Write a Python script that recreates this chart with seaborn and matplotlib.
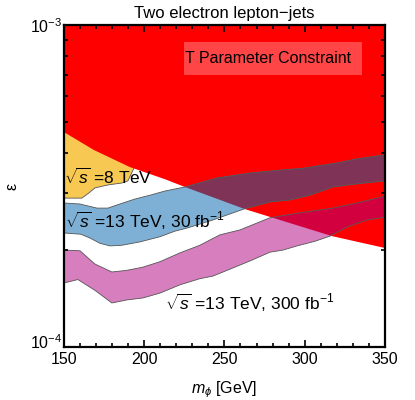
import matplotlib
matplotlib.use("Agg")
import matplotlib.pyplot as plt
import numpy as np
import seaborn as sns
from matplotlib.patches import Rectangle
from matplotlib.ticker import MultipleLocator, LogLocator, NullFormatter
from matplotlib.transforms import ScaledTranslation

# T parameter constraint: excluded above this boundary
t_mass = [150, 168.7, 191.1, 212.9, 225.4, 262.8, 317.0, 350]
t_eps = [4.65e-4, 4.09e-4, 3.62e-4, 3.32e-4, 3.14e-4, 2.68e-4, 2.21e-4, 2.03e-4]

# sqrt(s) = 8 TeV band (top hidden under the red region)
tev8_mass = [150, 161.2, 165.6, 169.3, 178.0, 186.1, 189.9, 193.6]
tev8_lower = [2.90e-4, 2.90e-4, 3.01e-4, 3.12e-4, 3.19e-4, 3.23e-4, 3.28e-4, 3.59e-4]
tev8_upper = [4.80e-4, 4.50e-4, 4.40e-4, 4.30e-4, 4.10e-4, 3.90e-4, 3.80e-4, 3.62e-4]

# sqrt(s) = 13 TeV, 30 fb^-1
b30_up_mass = [150, 160, 170.6, 177.4, 184.9, 194.2, 203.6, 212.9, 225.4, 245.3,
               265.9, 286.5, 298.9, 320.1, 332.5, 350]
b30_upper = [2.80e-4, 2.78e-4, 2.70e-4, 2.70e-4, 2.78e-4, 2.88e-4, 2.96e-4, 3.05e-4,
             3.14e-4, 3.35e-4, 3.47e-4, 3.55e-4, 3.59e-4, 3.73e-4, 3.84e-4, 3.95e-4]
b30_lo_mass = [150, 160.6, 166.2, 172.4, 178.7, 186.1, 197.3, 209.8, 219.2, 226.6,
               242.8, 262.8, 278.4, 290.8, 303.3, 317.6, 332.5, 350]
b30_lower = [2.26e-4, 2.24e-4, 2.18e-4, 2.10e-4, 2.06e-4, 2.07e-4, 2.12e-4, 2.20e-4,
             2.29e-4, 2.34e-4, 2.48e-4, 2.69e-4, 2.82e-4, 2.86e-4, 2.96e-4, 3.14e-4,
             3.21e-4, 3.28e-4]

# sqrt(s) = 13 TeV, 300 fb^-1
b300_up_mass = [150, 160, 169.3, 179.9, 189.2, 199.2, 209.8, 222.3, 234.7, 247.2,
                259.7, 278.4, 297.0, 317.6, 332.5, 350]
b300_upper = [2.00e-4, 1.99e-4, 1.81e-4, 1.71e-4, 1.73e-4, 1.77e-4, 1.84e-4, 1.96e-4,
              2.07e-4, 2.23e-4, 2.31e-4, 2.52e-4, 2.61e-4, 2.70e-4, 2.80e-4, 2.94e-4]
b300_lo_mass = [150, 158.7, 169.3, 179.9, 189.2, 199.2, 209.8, 222.3, 234.7, 242.8,
                255.3, 265.9, 278.4, 286.5, 295.2, 306.4, 315.8, 326.4, 338.8, 350]
b300_lower = [1.58e-4, 1.62e-4, 1.50e-4, 1.37e-4, 1.40e-4, 1.42e-4, 1.47e-4, 1.56e-4,
              1.63e-4, 1.66e-4, 1.76e-4, 1.85e-4, 1.97e-4, 2.00e-4, 2.06e-4, 2.13e-4,
              2.21e-4, 2.36e-4, 2.48e-4, 2.53e-4]

sns.set_style("ticks")
plt.rcParams["font.family"] = ["Liberation Sans", "DejaVu Sans"]
plt.rcParams["mathtext.fontset"] = "custom"
plt.rcParams["mathtext.rm"] = "Liberation Sans"
plt.rcParams["mathtext.it"] = "Liberation Sans:italic"
plt.rcParams["text.color"] = "black"
plt.rcParams["axes.labelcolor"] = "black"
plt.rcParams["xtick.color"] = "black"
plt.rcParams["ytick.color"] = "black"
fs = 11.5

fig = plt.figure(figsize=(4.15, 4.0), dpi=100)
ax = fig.add_axes([0.154, 0.1325, 0.7735, 0.805])
ax.set_yscale("log")
ax.set_xlim(150, 350)
ax.set_ylim(1e-4, 1e-3)
ax.set_axisbelow(False)

edge = "#555555"

# yellow band first, the red region covers its top
ax.fill(tev8_mass + tev8_mass[::-1], tev8_lower + tev8_upper[::-1],
        color="#F7C952", lw=0)

red = ax.fill(t_mass + [350, 150], t_eps + [1e-3, 1e-3], color="#FF0000", lw=0)[0]


def band(up_x, up_y, lo_x, lo_y, color, over_red):
    xs = up_x + lo_x[::-1]
    ys = up_y + lo_y[::-1]
    ax.fill(xs, ys, color=color, lw=0)
    ov = ax.fill(xs, ys, color=over_red, lw=0)[0]
    ov.set_clip_path(red)
    sns.lineplot(x=up_x, y=up_y, ax=ax, color=edge, lw=0.6)
    sns.lineplot(x=lo_x, y=lo_y, ax=ax, color=edge, lw=0.6)


band(b30_up_mass, b30_upper, b30_lo_mass, b30_lower, "#7EB0D5", "#7F3357")
band(b300_up_mass, b300_upper, b300_lo_mass, b300_lower, "#D67EBE", "#D2003F")
sns.lineplot(x=tev8_mass, y=tev8_lower, ax=ax, color=edge, lw=0.6)

ax.add_patch(Rectangle((0.374, 0.845), 0.555, 0.1025, transform=ax.transAxes,
                       facecolor="#FF4545", lw=0, zorder=3))
ax.text(0.376, 0.896, "T Parameter Constraint", transform=ax.transAxes,
        ha="left", va="center", fontsize=fs, zorder=4)

ax.text(150.3, 3.37e-4, r"$\sqrt{s}$ =8 TeV", fontsize=fs + 1, ha="left", va="center")
ax.text(150.8, 2.46e-4, r"$\sqrt{s}$ =13 TeV, 30 fb$^{-1}$", fontsize=fs + 1,
        ha="left", va="center")
ax.text(212.9, 1.37e-4, r"$\sqrt{s}$ =13 TeV, 300 fb$^{-1}$", fontsize=fs + 1,
        ha="left", va="center")

ax.xaxis.set_major_locator(MultipleLocator(50))
ax.xaxis.set_minor_locator(MultipleLocator(10))
ax.yaxis.set_major_locator(LogLocator(base=10))
ax.yaxis.set_minor_locator(LogLocator(base=10, subs=np.arange(2, 10)))
ax.yaxis.set_minor_formatter(NullFormatter())
ax.tick_params(which="both", direction="in", top=True, right=True,
               labelsize=fs, width=1.2, color="black", labelcolor="black")
ax.tick_params(which="major", length=5)
ax.tick_params(which="minor", length=3)
ax.tick_params(axis="x", which="major", pad=3.5)
ax.tick_params(axis="y", which="major", pad=1)
for s in ax.spines.values():
    s.set_linewidth(1.6)
    s.set_color("black")
    s.set_zorder(5)

ax.set_title("Two electron lepton\u2212jets", fontsize=fs + 0.5, pad=5)
ax.set_xlabel(r"$m_\phi$ [GeV]", fontsize=fs, labelpad=9)
ax.set_ylabel("\u03b5", fontsize=fs, labelpad=8)

# lift the bottom decade label a little, as in the original
fig.canvas.draw()
for tick in ax.yaxis.get_major_ticks():
    if np.isclose(tick.get_loc(), 1e-4):
        lab = tick.label1
        lab.set_transform(lab.get_transform() + ScaledTranslation(0, 4 / 72, fig.dpi_scale_trans))

fig.savefig("out.png", dpi=100)
